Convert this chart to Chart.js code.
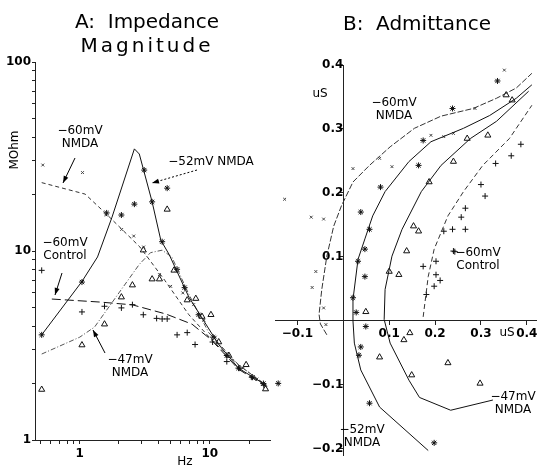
<!DOCTYPE html>
<html>
<head>
<meta charset="utf-8">
<script src="https://cdn.jsdelivr.net/npm/chart.js@4.4.1/dist/chart.umd.min.js"></script>
<style>
  body { margin: 0; background: #fff; }
  #wrap { position: relative; width: 541px; height: 466px; overflow: hidden; }
  canvas { position: absolute; top: 0; }
  .title { position: absolute; text-align: center; font: 20px "DejaVu Sans", sans-serif; line-height: 24px; color: #000; }
</style>
</head>
<body>
<div id="wrap">
  <canvas id="chartA" width="275" height="466" style="left:0"></canvas>
  <canvas id="chartB" width="271" height="466" style="left:270px"></canvas>
  <div class="title" style="left:0;width:294px;top:9px">A:&nbsp; Impedance<br><span style="letter-spacing:3px">Magnitude</span></div>
  <div class="title" style="left:270px;width:294px;top:11px">B:&nbsp; Admittance</div>
</div>
<script>
// ---- A: impedance magnitude (MOhm) vs frequency (Hz), fitted curves ----
const fitHz52 = [0.51, 1.04, 1.37, 1.77, 2.63, 2.87, 3.6, 4.2, 4.86, 6.9, 11.7, 16.6, 27];
const fitZ52 = [3.6, 6.9, 9.3, 15.1, 34.7, 32.6, 18.2, 11.4, 9.6, 5.7, 3.2, 2.4, 1.95];
const fitHzCtl = [0.61, 1.42, 2.54, 4.6, 7.3, 10.3, 16.6, 27];
const fitZCtl = [5.57, 5.37, 5.19, 4.64, 4.1, 3.38, 2.37, 1.92];
const fitHz47 = [0.51, 1.0, 1.3, 2.0, 2.87, 3.5, 4.3, 5.1, 6.9, 9.8, 16.6, 27];
const fitZ47 = [2.85, 3.5, 3.96, 6.0, 8.5, 9.8, 10.1, 9.3, 5.9, 3.7, 2.5, 1.95];
const fitHz60n = [0.51, 1.1, 1.6, 2.9, 4.5, 6.9, 10.7, 16.6, 27];
const fitZ60n = [23, 20, 15.7, 10.5, 7.0, 4.6, 3.3, 2.5, 1.95];

// measured points
const hz52 = [0.51, 1.04, 1.61, 2.09, 2.63, 3.13, 3.6, 4.3, 4.7, 5.6, 6.4, 8.2, 10.6, 13.5, 16.6, 21.3, 25.8];
const z52 = [3.6, 6.85, 15.9, 15.5, 17.7, 26.8, 18.2, 11.2, 21.5, 8.0, 6.4, 4.6, 3.5, 2.8, 2.4, 2.15, 1.99];
const hz47 = [0.51, 1.04, 1.55, 2.09, 2.54, 3.08, 3.6, 4.1, 4.7, 5.3, 6.7, 7.8, 8.7, 10.2, 11.7, 14, 19, 26.8];
const z47 = [1.85, 3.18, 4.1, 5.7, 6.6, 10.1, 7.1, 7.1, 16.6, 7.9, 5.5, 5.6, 4.5, 4.6, 3.3, 2.8, 2.5, 1.86];
const hzCtl = [0.51, 1.04, 1.55, 2.09, 2.54, 3.08, 3.9, 4.3, 4.7, 5.6, 6.7, 7.7, 10.5, 13.5, 17, 21, 26];
const zCtl = [7.9, 4.76, 5.1, 5.0, 5.2, 4.6, 4.4, 4.37, 4.37, 3.6, 3.7, 3.2, 3.3, 2.6, 2.4, 2.15, 1.95];
const hz60n = [0.52, 1.05, 1.6, 2.1, 2.6, 3.1, 4.1, 5, 6.2, 7.5, 9, 11, 14, 18, 23, 27];
const z60n = [28.5, 26, 15.5, 13, 12, 10.5, 7.5, 6.5, 6.0, 5.2, 4.3, 3.5, 2.8, 2.4, 2.1, 1.9];

const hzTicks = [0.5, 0.6, 0.7, 0.8, 0.9, 1, 2, 3, 4, 5, 6, 7, 8, 9, 10, 20];
const hzLabels = [1, 10];
const zTicks = [1, 2, 3, 4, 5, 6, 7, 8, 9, 10, 20, 30, 40, 50, 60, 70, 80, 90, 100];
const zLabels = [1, 10, 100];

// ---- B: admittance (uS), real vs imaginary ----
const fitRe60n = [-0.036, -0.05, -0.053, -0.047, -0.036, -0.021, -0.004, 0.021, 0.057, 0.102, 0.155, 0.213, 0.283, 0.334, 0.377, 0.411];
const fitIm60n = [-0.022, -0.005, 0.01, 0.049, 0.101, 0.148, 0.180, 0.217, 0.243, 0.272, 0.301, 0.320, 0.332, 0.348, 0.364, 0.387];
const fitRe52 = [0.185, 0.079, 0.038, 0.024, 0.021, 0.021, 0.032, 0.047, 0.064, 0.091, 0.143, 0.191, 0.262, 0.319, 0.377, 0.411];
const fitIm52 = [-0.203, -0.135, -0.077, -0.035, 0.0, 0.033, 0.096, 0.128, 0.164, 0.202, 0.249, 0.280, 0.301, 0.321, 0.348, 0.369];
const fitRe47 = [0.326, 0.234, 0.166, 0.143, 0.102, 0.089, 0.091, 0.106, 0.128, 0.170, 0.213, 0.277, 0.334, 0.404];
const fitIm47 = [-0.124, -0.140, -0.120, -0.093, -0.035, 0.002, 0.049, 0.101, 0.143, 0.202, 0.243, 0.285, 0.312, 0.359];
const fitReCtl = [0.174, 0.185, 0.198, 0.228, 0.262, 0.304, 0.362, 0.411];
const fitImCtl = [0.006, 0.069, 0.112, 0.164, 0.202, 0.243, 0.285, 0.337];

const re60n = [-0.128, -0.070, -0.043, -0.060, -0.068, -0.043, -0.038, 0.021, 0.079, 0.106, 0.191, 0.219, 0.240, 0.287, 0.351];
const im60n = [0.190, 0.162, 0.159, 0.077, 0.052, 0.020, -0.006, 0.238, 0.254, 0.241, 0.290, 0.288, 0.293, 0.332, 0.392];
const re52 = [0.238, 0.336, 0.174, 0.164, 0.081, 0.038, 0.057, 0.047, 0.032, 0.047, 0.021, 0.028, 0.049, 0.038, 0.034, 0.057, 0.198, -0.142];
const im52 = [0.332, 0.375, 0.282, 0.243, 0.209, 0.170, 0.143, 0.112, 0.093, 0.069, 0.036, 0.013, -0.009, -0.041, -0.054, -0.129, -0.191, -0.098];
const re47 = [0.355, 0.368, 0.315, 0.270, 0.240, 0.187, 0.153, 0.164, 0.138, 0.100, 0.121, 0.049, 0.145, 0.132, 0.079, 0.149, 0.228, 0.298];
const im47 = [0.353, 0.345, 0.290, 0.285, 0.249, 0.217, 0.148, 0.140, 0.109, 0.077, 0.072, 0.014, -0.019, -0.030, -0.057, -0.085, -0.066, -0.098];
const reCtl = [0.387, 0.366, 0.332, 0.300, 0.309, 0.266, 0.257, 0.266, 0.238, 0.219, 0.240, 0.202, 0.174, 0.202, 0.211, 0.198, 0.181, 0.243];
const imCtl = [0.276, 0.258, 0.246, 0.213, 0.195, 0.176, 0.162, 0.143, 0.143, 0.140, 0.109, 0.093, 0.085, 0.072, 0.063, 0.054, 0.041, 0.108];

const reTicks = [-0.1, 0, 0.1, 0.2, 0.3, 0.4];
const imTicks = [-0.2, -0.1, 0, 0.1, 0.2, 0.3, 0.4];

const pts = (xs, ys) => xs.map((x, i) => ({ x, y: ys[i] }));
const FONT = '"DejaVu Sans", sans-serif';

const fitLine = (data, dash, color) => ({
    data, showLine: true, pointRadius: 0, borderColor: color || '#111',
    borderWidth: 1, borderDash: dash || [], tension: 0, fill: false, clip: false,
});
const marks = (data, style, radius, color) => ({
    data, showLine: false, pointStyle: style, pointRadius: radius,
    borderColor: color || '#111', backgroundColor: '#fff', pointBorderWidth: 1, clip: false,
});

// labels, arrows and axis titles drawn on top of each chart
const notes = {
    id: 'notes',
    afterDraw(chart, args, opts) {
        const ctx = chart.ctx;
        const dx = opts.dx || 0;
        ctx.save();
        ctx.fillStyle = '#000';
        ctx.strokeStyle = '#000';
        ctx.font = '12px ' + FONT;
        ctx.textAlign = 'center';
        ctx.textBaseline = 'middle';
        (opts.labels || []).forEach(l => {
            l.lines.forEach((t, i) => {
                if (l.rotate) {
                    ctx.save();
                    ctx.translate(l.x - dx, l.y);
                    ctx.rotate(-Math.PI / 2);
                    ctx.fillText(t, 0, 0);
                    ctx.restore();
                } else {
                    ctx.fillText(t, l.x - dx, l.y + i * 13);
                }
            });
        });
        (opts.arrows || []).forEach(a => {
            const [x1, y1, x2, y2] = [a[0] - dx, a[1], a[2] - dx, a[3]];
            ctx.lineWidth = 1;
            ctx.setLineDash(a[4] || []);
            ctx.beginPath();
            ctx.moveTo(x1, y1);
            ctx.lineTo(x2, y2);
            ctx.stroke();
            ctx.setLineDash([]);
            const ang = Math.atan2(y2 - y1, x2 - x1);
            ctx.beginPath();
            ctx.moveTo(x2, y2);
            ctx.lineTo(x2 - 7 * Math.cos(ang) + 2.5 * Math.sin(ang), y2 - 7 * Math.sin(ang) - 2.5 * Math.cos(ang));
            ctx.lineTo(x2 - 7 * Math.cos(ang) - 2.5 * Math.sin(ang), y2 - 7 * Math.sin(ang) + 2.5 * Math.cos(ang));
            ctx.closePath();
            ctx.fill();
        });
        ctx.restore();
    }
};

const tickFont = { family: FONT, size: 12, weight: 'bold' };
const axisGrid = { display: true, drawOnChartArea: false, drawTicks: true, tickLength: 4, color: '#222' };
const axisBorder = { display: true, color: '#222', width: 1 };
const fmt = v => v === 0 ? '' : (v < 0 ? '\u2212' : '') + Math.abs(v).toFixed(1);

new Chart(document.getElementById('chartA'), {
    type: 'scatter',
    data: {
        datasets: [
            fitLine(pts(fitHz52, fitZ52)),
            fitLine(pts(fitHzCtl, fitZCtl), [9, 4]),
            fitLine(pts(fitHz47, fitZ47), [5, 2, 1, 2], '#555'),
            fitLine(pts(fitHz60n, fitZ60n), [4, 3], '#333'),
            marks(pts(hz52, z52), 'star', 3),
            marks(pts(hz47, z47), 'triangle', 3.5),
            marks(pts(hzCtl, zCtl), 'cross', 3),
            marks(pts(hz60n, z60n), 'crossRot', 2, '#444'),
        ],
    },
    options: {
        responsive: false,
        animation: false,
        layout: { padding: { left: 0, right: 3, top: 62, bottom: 6 } },
        scales: {
            x: {
                type: 'logarithmic', min: 0.453, max: 29,
                afterBuildTicks: s => { s.ticks = hzTicks.map(v => ({ value: v })); },
                afterFit: s => { s.height = 20; },
                ticks: { autoSkip: false, maxRotation: 0, padding: 3, color: '#000', font: tickFont,
                         callback: v => hzLabels.includes(v) ? String(v) : '' },
                grid: axisGrid, border: axisBorder,
            },
            y: {
                type: 'logarithmic', min: 1, max: 100,
                afterBuildTicks: s => { s.ticks = zTicks.map(v => ({ value: v })); },
                afterFit: s => { s.width = 35; },
                ticks: { autoSkip: false, padding: 1, color: '#000', font: tickFont,
                         callback: v => zLabels.includes(v) ? String(v) : '' },
                grid: Object.assign({}, axisGrid, { tickLength: 3 }), border: axisBorder,
            },
        },
        plugins: {
            legend: { display: false },
            tooltip: { enabled: false },
            notes: {
                labels: [
                    { lines: ['\u221260mV', 'NMDA'], x: 80, y: 131 },
                    { lines: ['\u221252mV NMDA'], x: 211, y: 162 },
                    { lines: ['\u221260mV', 'Control'], x: 65, y: 243 },
                    { lines: ['\u221247mV', 'NMDA'], x: 130, y: 360 },
                    { lines: ['Hz'], x: 185, y: 462 },
                    { lines: ['MOhm'], x: 15, y: 150, rotate: true },
                ],
                arrows: [
                    [75, 158, 63, 183],
                    [197, 170, 152, 183, [2, 2]],
                    [62, 273, 55, 295],
                    [105, 353, 93, 330],
                ],
            },
        },
    },
    plugins: [notes],
});

new Chart(document.getElementById('chartB'), {
    type: 'scatter',
    data: {
        datasets: [
            fitLine(pts(fitRe60n, fitIm60n), [6, 2], '#333'),
            fitLine(pts(fitRe52, fitIm52)),
            fitLine(pts(fitRe47, fitIm47)),
            fitLine(pts(fitReCtl, fitImCtl), [5, 3], '#333'),
            marks(pts(re60n, im60n), 'crossRot', 2, '#444'),
            marks(pts(re52, im52), 'star', 3),
            marks(pts(re47, im47), 'triangle', 3.5),
            marks(pts(reCtl, imCtl), 'cross', 3),
        ],
    },
    options: {
        responsive: false,
        animation: false,
        layout: { padding: { left: 2, right: 4, top: 65, bottom: 11 } },
        scales: {
            x: {
                type: 'linear', min: -0.149, max: 0.42, position: { y: 0 },
                afterBuildTicks: s => { s.ticks = reTicks.map(v => ({ value: v })); },
                ticks: { autoSkip: false, maxRotation: 0, padding: 2, color: '#000', font: tickFont, callback: fmt },
                grid: axisGrid, border: axisBorder,
            },
            y: {
                type: 'linear', min: -0.21, max: 0.4, position: { x: 0 },
                afterBuildTicks: s => { s.ticks = imTicks.map(v => ({ value: v })); },
                ticks: { autoSkip: false, padding: 3, color: '#000', font: tickFont, callback: fmt },
                grid: axisGrid, border: axisBorder,
            },
        },
        plugins: {
            legend: { display: false },
            tooltip: { enabled: false },
            notes: {
                dx: 270,
                labels: [
                    { lines: ['\u221260mV', 'NMDA'], x: 394, y: 103 },
                    { lines: ['\u221260mV', 'Control'], x: 478, y: 253 },
                    { lines: ['\u221247mV', 'NMDA'], x: 513, y: 397 },
                    { lines: ['\u221252mV', 'NMDA'], x: 362, y: 430 },
                    { lines: ['uS'], x: 320, y: 94 },
                    { lines: ['uS'], x: 507, y: 333 },
                ],
            },
        },
    },
    plugins: [notes],
});
</script>
</body>
</html>
